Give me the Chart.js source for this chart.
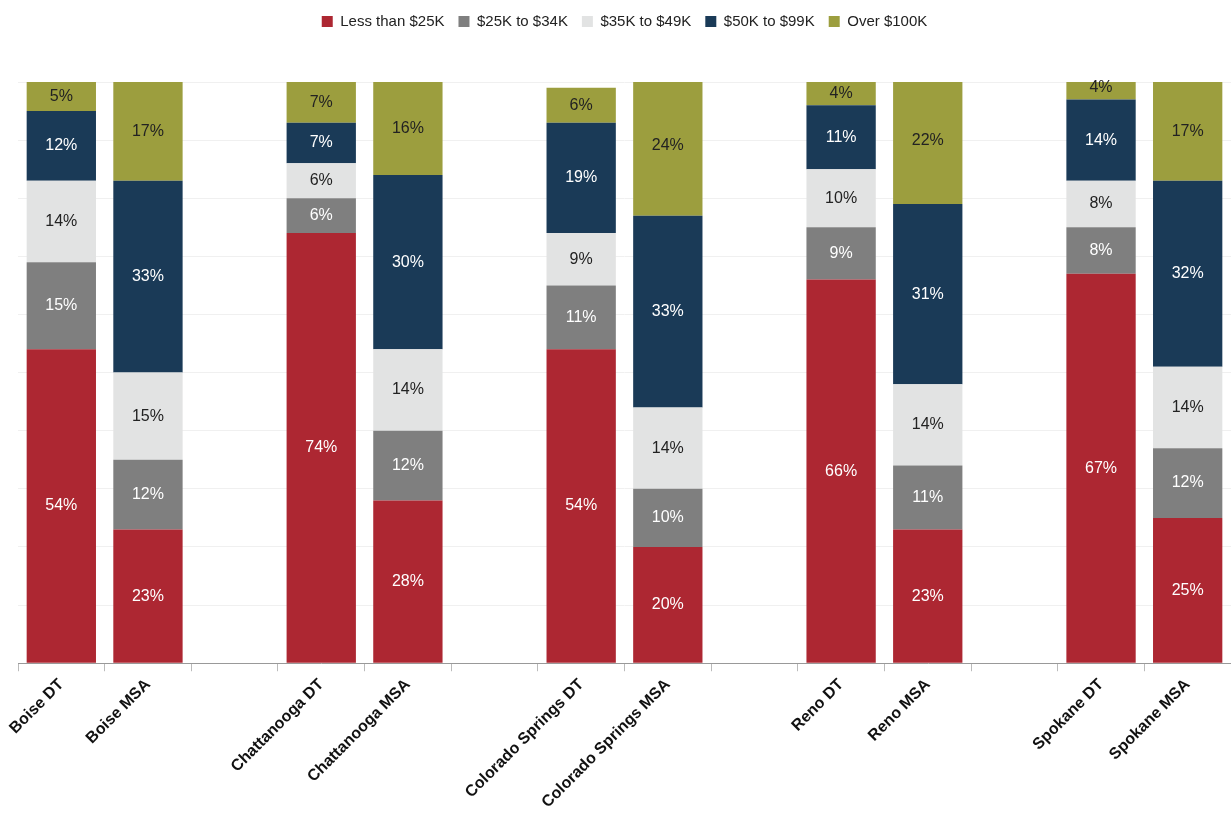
<!DOCTYPE html>
<html>
<head>
<meta charset="utf-8">
<script src="https://cdn.jsdelivr.net/npm/chart.js@4"></script>
<style>
  html, body { margin: 0; padding: 0; background: #fff; }
  #wrap { width: 1231px; height: 816px; }
</style>
</head>
<body>
<div id="wrap"><canvas id="incomeChart"></canvas></div>
<script>
const categories = ['Boise DT', 'Boise MSA', '', 'Chattanooga DT', 'Chattanooga MSA', '',
    'Colorado Springs DT', 'Colorado Springs MSA', '', 'Reno DT', 'Reno MSA', '', 'Spokane DT', 'Spokane MSA'];
const seriesNames = ['Less than $25K', '$25K to $34K', '$35K to $49K', '$50K to $99K', 'Over $100K'];
const lessThan25 = [54, 23, null, 74, 28, null, 54, 20, null, 66, 23, null, 67, 25];
const from25to34 = [15, 12, null, 6, 12, null, 11, 10, null, 9, 11, null, 8, 12];
const from35to49 = [14, 15, null, 6, 14, null, 9, 14, null, 10, 14, null, 8, 14];
const from50to99 = [12, 33, null, 7, 30, null, 19, 33, null, 11, 31, null, 14, 32];
const over100 = [5, 17, null, 7, 16, null, 6, 24, null, 4, 22, null, 4, 17];

const colors = ['#AD2732', '#7F7F7F', '#E2E3E3', '#1A3A57', '#9C9E3E'];
const labelColors = ['#fff', '#fff', '#222', '#fff', '#222'];
const allSeries = [lessThan25, from25to34, from35to49, from50to99, over100];

// draws the % values in the middle of each segment
const segmentLabels = {
    id: 'segmentLabels',
    afterDatasetsDraw(chart) {
        const ctx = chart.ctx;
        ctx.save();
        ctx.font = '16px "Liberation Sans", Arial, sans-serif';
        ctx.textAlign = 'center';
        ctx.textBaseline = 'middle';
        chart.data.datasets.forEach((ds, i) => {
            chart.getDatasetMeta(i).data.forEach((bar, j) => {
                const v = ds.data[j];
                if (v == null) return;
                ctx.fillStyle = labelColors[i];
                ctx.fillText(v + '%', bar.x, (bar.y + bar.base) / 2);
            });
        });
        ctx.restore();
    }
};

// extra room under the legend
const legendGap = {
    id: 'legendGap',
    beforeInit(chart) {
        const fit = chart.legend.fit;
        chart.legend.fit = function () {
            fit.bind(chart.legend)();
            this.height += 43;
        };
    }
};

new Chart(document.getElementById('incomeChart'), {
    type: 'bar',
    data: {
        labels: categories,
        datasets: allSeries.map((d, i) => ({
            label: seriesNames[i],
            data: d,
            backgroundColor: colors[i],
            barPercentage: 0.8,
            categoryPercentage: 1.0
        }))
    },
    options: {
        responsive: true,
        maintainAspectRatio: false,
        animation: false,
        layout: { padding: { left: 18, right: 0, top: 0, bottom: 0 } },
        plugins: {
            legend: {
                position: 'top',
                labels: {
                    boxWidth: 11, boxHeight: 11, padding: 14,
                    color: '#222',
                    font: { size: 15, family: '"Liberation Sans", Arial, sans-serif' }
                },
                padding: 2
            },
            tooltip: { enabled: false }
        },
        scales: {
            x: {
                stacked: true,
                grid: { offset: true, drawOnChartArea: false, tickLength: 8, color: '#bbb' },
                border: { color: '#999' },
                ticks: {
                    maxRotation: 45, minRotation: 45, autoSkip: false,
                    color: '#111', padding: 4,
                    font: { size: 16, weight: 'bold', family: '"Liberation Sans", Arial, sans-serif' }
                }
            },
            y: {
                stacked: true,
                min: 0, max: 100,
                ticks: { display: false, stepSize: 10 },
                grid: { color: '#f0f0f0', drawTicks: false },
                border: { display: false }
            }
        }
    },
    plugins: [segmentLabels, legendGap]
});
</script>
</body>
</html>
